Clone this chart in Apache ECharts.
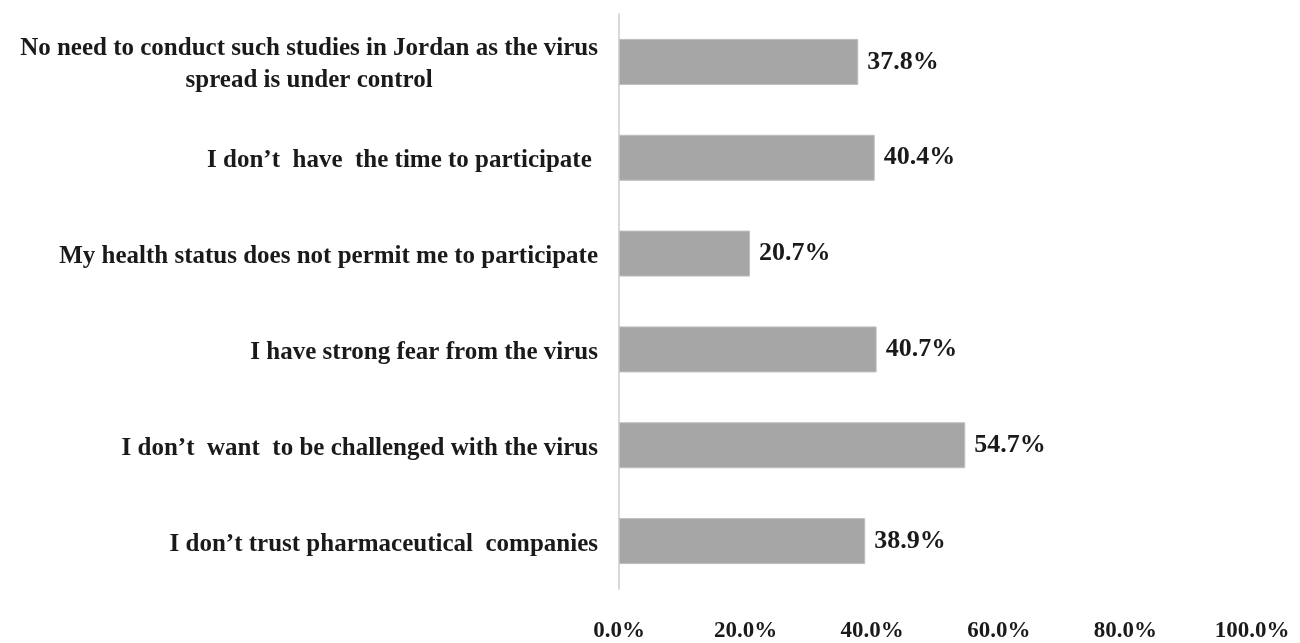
<!DOCTYPE html>
<html>
<head>
<meta charset="utf-8">
<script src="https://cdn.jsdelivr.net/npm/echarts@6/dist/echarts.min.js"></script>
<style>
  html, body { margin: 0; padding: 0; background: #fff; }
  #chart { width: 1300px; height: 643px; }
</style>
</head>
<body>
<div id="chart"></div>
<script>
const categories = [
  'No need to conduct such studies in Jordan as the virus\n{c|spread is under control}',
  'I don\u2019t  have  the time to participate ',
  'My health status does not permit me to participate',
  'I have strong fear from the virus',
  'I don\u2019t  want  to be challenged with the virus',
  'I don\u2019t trust pharmaceutical  companies',
];
const values = [37.8, 40.4, 20.7, 40.7, 54.7, 38.9];
const tickValues = [0, 20, 40, 60, 80, 100];

const fontFamily = '"Liberation Serif", "Times New Roman", serif';

const chart = echarts.init(document.getElementById('chart'));
chart.setOption({
  animation: false,
  grid: { left: 619, right: 48, top: 14, bottom: 52, containLabel: false },
  xAxis: {
    type: 'value',
    min: tickValues[0],
    max: tickValues[tickValues.length - 1],
    interval: 20,
    axisLine: { show: false },
    axisTick: { show: false },
    splitLine: { show: false },
    axisLabel: {
      margin: 31,
      color: '#1a1a1a',
      fontFamily: fontFamily,
      fontWeight: 'bold',
      fontSize: 23,
      formatter: (v) => v.toFixed(1) + '%',
    },
  },
  yAxis: {
    type: 'category',
    inverse: true,
    data: categories,
    axisLine: { show: true, lineStyle: { color: '#d9d9d9', width: 2 } },
    axisTick: { show: false },
    axisLabel: {
      margin: 21,
      color: '#1a1a1a',
      fontFamily: fontFamily,
      fontWeight: 'bold',
      fontSize: 25,
      lineHeight: 32,
      padding: [6, 0, 0, 0],
      rich: {
        c: {
          align: 'center',
          color: '#1a1a1a',
          fontFamily: fontFamily,
          fontWeight: 'bold',
          fontSize: 25,
          lineHeight: 32,
        },
      },
    },
  },
  series: [
    {
      type: 'bar',
      data: values,
      barWidth: 46,
      itemStyle: { color: '#a6a6a6', borderColor: '#bfbfbf', borderWidth: 1 },
      label: {
        show: true,
        position: 'right',
        distance: 9,
        color: '#1a1a1a',
        fontFamily: fontFamily,
        fontWeight: 'bold',
        fontSize: 26,
        formatter: (p) => p.value.toFixed(1) + '%',
      },
    },
  ],
});
</script>
</body>
</html>
